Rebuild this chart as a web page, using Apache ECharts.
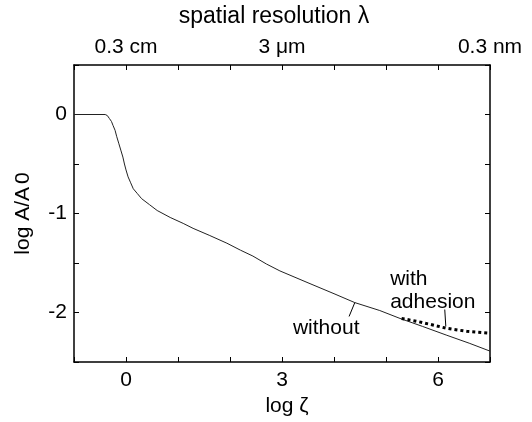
<!DOCTYPE html>
<html>
<head>
<meta charset="utf-8">
<script src="https://cdn.jsdelivr.net/npm/echarts@6/dist/echarts.min.js"></script>
<style>html,body{margin:0;padding:0;background:#fff;}#c{width:532px;height:422px;}</style>
</head>
<body>
<div id="c"></div>
<script>
// log zeta values and log A/A0 for the curve without adhesion
const zetaWithout = [-1, -0.4, -0.36, -0.32, -0.28, -0.25, -0.21, -0.18, -0.14, -0.1, -0.06, -0.03, 0.0, 0.04, 0.09, 0.14, 0.22, 0.3, 0.45, 0.6, 0.85, 1.1, 1.29, 1.6, 1.94, 2.2, 2.44, 2.7, 2.96, 3.5, 4.0, 4.4, 4.88, 5.27, 5.7, 6.17, 6.6, 7.0];
const logAWithout = [0, 0, -0.01, -0.04, -0.07, -0.11, -0.16, -0.22, -0.29, -0.36, -0.43, -0.5, -0.56, -0.63, -0.69, -0.75, -0.8, -0.85, -0.91, -0.97, -1.04, -1.1, -1.15, -1.22, -1.3, -1.37, -1.43, -1.51, -1.58, -1.7, -1.81, -1.9, -1.98, -2.06, -2.14, -2.23, -2.31, -2.39];
// curve with adhesion (dotted)
const zetaWith = [5.3, 5.6, 5.85, 6.17, 6.55, 7.0];
const logAWith = [-2.06, -2.09, -2.12, -2.16, -2.19, -2.21];
// tick labels
const bottomTickLabels = {0: '0', 3: '3', 6: '6'};
const topTickLabels = {0: '0.3 cm', 3: '3 μm', 7: '0.3 nm'};
const leftTickLabels = {'0': '0', '-1': '-1', '-2': '-2'};

const FONT = 'Liberation Sans';
const FS = 21;
const black = '#000';

const chart = echarts.init(document.getElementById('c'), null, {renderer: 'canvas'});
const axisCommon = {
  type: 'value', min: -1, max: 7, interval: 1,
  axisLine: {show: true, onZero: false, lineStyle: {color: black, width: 1.5}},
  axisTick: {show: true, inside: true, length: 5, lineStyle: {color: black, width: 1}},
  splitLine: {show: false},
  axisLabel: {color: black, fontFamily: FONT, fontSize: FS, margin: 8, showMinLabel: true, showMaxLabel: true}
};
const yCommon = {
  type: 'value', min: -2.5, max: 0.5, interval: 0.5,
  axisLine: {show: true, onZero: false, lineStyle: {color: black, width: 1.5}},
  axisTick: {show: true, inside: true, length: 5, lineStyle: {color: black, width: 1}},
  splitLine: {show: false}
};
chart.setOption({
  animation: false,
  backgroundColor: '#fff',
  textStyle: {fontFamily: FONT},
  grid: {left: 74, right: 42, top: 63, bottom: 60},
  xAxis: [
    Object.assign({}, axisCommon, {
      position: 'bottom',
      name: 'log ζ', nameLocation: 'middle', nameGap: 32,
      nameTextStyle: {color: black, fontFamily: FONT, fontSize: FS, padding: [0, 0, 0, 10]},
      axisLabel: Object.assign({}, axisCommon.axisLabel, {
        formatter: v => bottomTickLabels[Math.round(v)] !== undefined && Math.abs(v - Math.round(v)) < 1e-6 ? bottomTickLabels[Math.round(v)] : ''
      })
    }),
    Object.assign({}, axisCommon, {
      position: 'top',
      name: 'spatial resolution λ', nameLocation: 'middle', nameGap: 37,
      nameTextStyle: {color: black, fontFamily: FONT, fontSize: 23, padding: [0, 16, 0, 0]},
      axisLabel: Object.assign({}, axisCommon.axisLabel, {
        margin: 7,
        formatter: v => topTickLabels[Math.round(v)] !== undefined && Math.abs(v - Math.round(v)) < 1e-6 ? topTickLabels[Math.round(v)] : ''
      })
    })
  ],
  yAxis: [
    Object.assign({}, yCommon, {
      position: 'left',
      name: '{a|log A/A}{b|0}', nameLocation: 'middle', nameGap: 40, nameRotate: 90,
      nameTextStyle: {color: black, fontFamily: FONT, fontSize: FS,
        rich: {a: {fontFamily: FONT, fontSize: FS, color: black}, b: {fontFamily: FONT, fontSize: FS, color: black, padding: [0, 0, 0, 3]}}},
      axisLabel: {color: black, fontFamily: FONT, fontSize: FS, margin: 7,
        formatter: v => { const k = String(Math.round(v * 2) / 2); return leftTickLabels[k] !== undefined ? leftTickLabels[k] : ''; }}
    }),
    Object.assign({}, yCommon, {position: 'right', axisLabel: {show: false}})
  ],
  series: [
    {
      name: 'without', type: 'line', xAxisIndex: 0, yAxisIndex: 0,
      data: zetaWithout.map((z, i) => [z, logAWithout[i]]),
      showSymbol: false, symbol: 'none', smooth: false,
      lineStyle: {color: '#222', width: 1},
      markLine: {
        silent: true, symbol: ['none', 'none'], label: {show: false},
        lineStyle: {color: black, width: 1, type: 'solid'},
        data: [
          [{coord: [4.29, -2.04]}, {coord: [4.40, -1.9]}],
          [{coord: [6.13, -1.97]}, {coord: [6.15, -2.14]}]
        ]
      },
      z: 2
    },
    {
      name: 'with adhesion', type: 'line', xAxisIndex: 0, yAxisIndex: 0,
      data: zetaWith.map((z, i) => [z, logAWith[i]]),
      showSymbol: false, symbol: 'none', smooth: false,
      lineStyle: {color: black, width: 3, type: [3, 3]},
      z: 3
    }
  ]
});

// annotation texts anchored in data coordinates
const notes = [
  {text: 'without', at: [3.85, -2.16], align: 'center'},
  {text: 'with', at: [5.08, -1.66], align: 'left'},
  {text: 'adhesion', at: [5.08, -1.9], align: 'left'}
];
chart.setOption({
  graphic: notes.map(n => {
    const p = chart.convertToPixel({xAxisIndex: 0, yAxisIndex: 0}, n.at);
    return {type: 'text', x: p[0], y: p[1], silent: true,
      style: {text: n.text, fill: black, font: FS + 'px "' + FONT + '"', textAlign: n.align, textVerticalAlign: 'middle'}};
  })
});
</script>
</body>
</html>
